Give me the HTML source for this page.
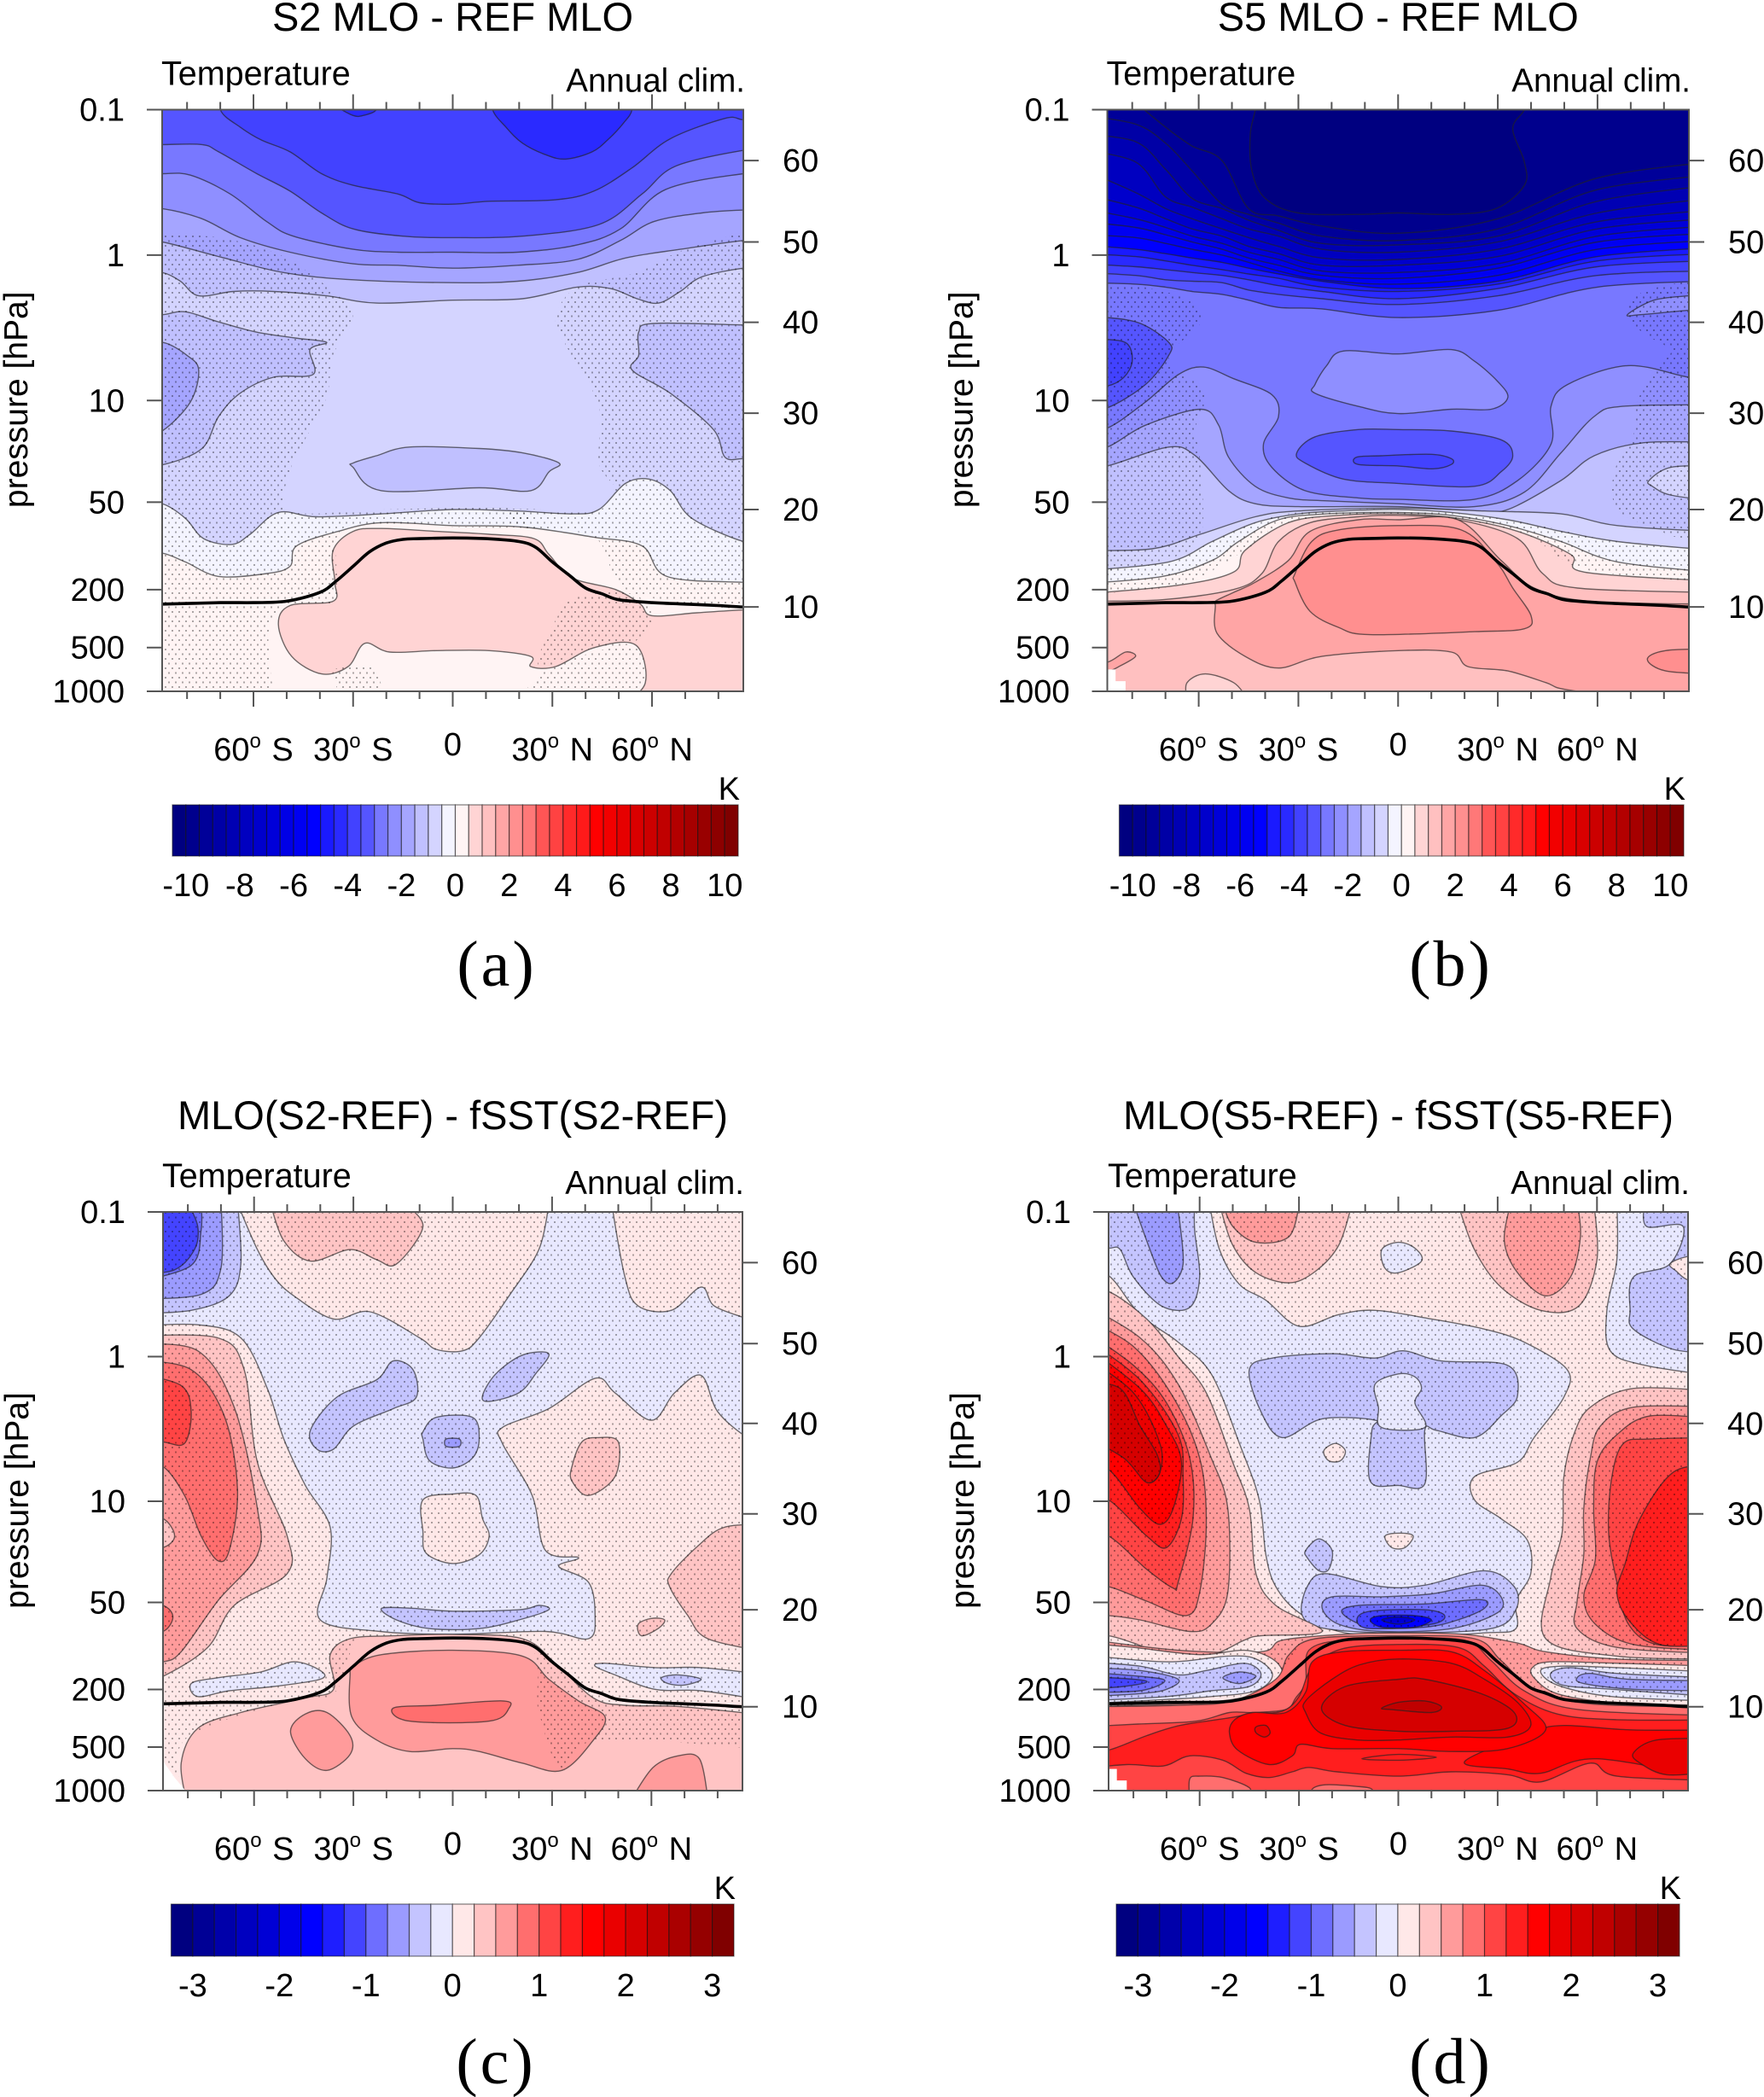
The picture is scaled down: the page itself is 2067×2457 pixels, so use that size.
<!DOCTYPE html>
<html lang="en">
<head>
<meta charset="utf-8">
<title>Zonal mean temperature differences</title>
<style>
html,body{margin:0;padding:0;background:#fff;}
svg{display:block;}
text{font-family:"Liberation Sans",sans-serif;fill:#000;}
</style>
</head>
<body>
<svg id="figure" xmlns="http://www.w3.org/2000/svg" width="2067" height="2457" viewBox="0 0 2067 2457">
<defs>
<pattern id="dots" patternUnits="userSpaceOnUse" width="8" height="11">
<rect x="1" y="1" width="2" height="2" fill="#000" fill-opacity="0.33"/>
<rect x="5" y="6.5" width="2" height="2" fill="#000" fill-opacity="0.33"/>
</pattern>
</defs>
</svg>
<script>
/* ---------- shared axes data ---------- */
const latMajorTicks=[-60,-30,0,30,60];
const latMinorTicks=[-80,-70,-50,-40,-20,-10,10,20,40,50,70,80];
const latTickLabels=["60","30","0","30","60"];
const latTickHemis=[" S"," S",""," N"," N"];
const pressureTicks=[0.1,1,10,50,200,500,1000];
const heightTicks=[10,20,30,40,50,60];
const heightTickLogp=[2.42,1.75,1.087,0.462,-0.09,-0.65];
const tropopauseLat=[-95,-87.5,-70,-60,-50,-40,-35,-30,-25,-20,-15,-10,0,10,20,25,30,35,40,45,50,60,70,80,87.5,95];
const tropopauseLogp=[2.4,2.4,2.39,2.39,2.38,2.32,2.24,2.14,2.04,1.98,1.955,1.95,1.945,1.95,1.97,2.01,2.11,2.2,2.29,2.33,2.37,2.39,2.4,2.41,2.42,2.42];
const barLabelsWide=[-10,-8,-6,-4,-2,0,2,4,6,8,10];
const barLabelsNarrow=[-3,-2,-1,0,1,2,3];
const wideRamp=[26,42,66,85,120,143,165,192,212,244];
const narrowRamp=[30,68,110,155,196,232];

/* ---------- panel (a) S2 MLO - REF MLO ---------- */
const aBase=-3.25;
const aBandLevels=[-2.75,-2.25,-1.75,-1.25,-0.75,-0.25,0.25];
const aBandCurves=[
[-95,-.76,-87.5,-.76,-75.5,-.76,-70.5,-.71,-59,-.56,-49,-.44,-39.5,-.29,-30,-.18,-15,-.13,0,-.12,21,-.13,44,-.21,57,-.42,67,-.61,87.5,-.72,95,-.72],
[-95,-.56,-87.5,-.56,-79,-.55,-67,-.42,-56,-.23,-48,-.13,-30,-.04,-16.5,-.02,0,-.02,19.5,-.02,37.5,-.07,50.5,-.18,64,-.45,87.5,-.56,95,-.56],
[-95,-.32,-87.5,-.32,-75.5,-.25,-64,-.12,-49,-.02,-30,.06,-16.5,.07,0,.09,19.5,.07,37.5,.03,50.5,-.1,60.5,-.23,75,-.29,87.5,-.31,95,-.31],
[-95,-.09,-87.5,-.09,-70.5,.01,-51,.12,-30,.17,0,.19,19.5,.18,37.5,.12,52,.02,68.5,-.04,87.5,-.1,95,-.1],
[-95,.12,-87.5,.12,-82,.18,-76.5,.28,-66,.25,-54,.25,-38,.28,-23,.33,0,.31,21,.3,37.5,.22,47.5,.23,55.5,.3,62,.33,68.5,.25,75,.15,87.5,.09,95,.09],
[-95,1.71,-87.5,1.71,-80.5,1.81,-75,1.95,-66.5,1.99,-61,1.92,-52.5,1.77,-41,1.8,-21.5,1.78,0,1.75,19.5,1.76,36,1.78,44,1.75,52,1.57,59,1.54,65.5,1.62,72,1.81,87.5,1.97,95,1.97],
[-95,2.05,-87.5,2.05,-80.5,2.11,-70.5,2.21,-56,2.19,-49,2.14,-47,2,-34.5,1.9,-21.5,1.84,0,1.86,21,1.87,42.5,1.94,57,2,64.5,2.21,87.5,2.25,95,2.25]
];
const aBlobLevels=[-3.75,-4.25,-4.25,-1.25,-1.75,-1.25,-1.25,0.75];
const aBlobOutlines=[
[-70,-1.2,-70,-1,-64,-.88,-57.5,-.79,-49,-.71,-39.5,-.56,-30,-.48,-16.5,-.42,-10,-.36,0,-.35,11,-.37,31,-.38,42.5,-.44,54,-.6,65.5,-.8,82,-.94,87.5,-.93,95,-.93,95,-1.2],
[12,-1.15,12,-1,16,-.88,21,-.77,28,-.69,34,-.66,42,-.71,47,-.8,51.5,-.91,54,-1,54,-1.15],
[-35,-1.1,-35,-1.02,-30,-.96,-27,-.96,-23,-1,-23,-1.1],
[-95,.41,-87.5,.41,-80.5,.39,-70.5,.46,-59,.53,-47.5,.57,-38,.6,-43,.65,-42,.82,-54,.84,-64,.95,-70.5,1.11,-75.5,1.33,-87,1.44,-95,1.44],
[-95,.64,-87.5,.6,-80,.69,-76.5,.79,-79,1.01,-87.5,1.21,-95,1.25],
[95,.48,87.5,.48,60.5,.47,56,.53,56,.69,54,.79,65.5,.95,78.5,1.2,82,1.39,87.5,1.4,95,1.4],
[-30,1.43,-23,1.38,-13,1.32,8,1.33,21,1.36,32,1.43,29,1.49,23.5,1.62,8,1.6,-21.5,1.62,-30,1.46],
[-36,2.03,-30,1.9,-21.5,1.88,-5,1.9,11,1.92,24.5,1.95,29,2.06,36,2.22,49,2.3,56.5,2.4,60,2.48,73.5,2.46,87.5,2.44,95,2.44,95,3.1,51,3.1,58,2.94,55,2.68,42.5,2.7,31,2.83,23.5,2.83,23.5,2.76,11,2.72,-5,2.72,-19,2.73,-26.5,2.67,-31.5,2.83,-39.5,2.88,-48.5,2.76,-52.5,2.54,-49,2.41,-36,2.38,-35.5,2.25]
];
const aStipple=[
[-95,-.15,-70.5,-.12,-51,.01,-34.5,.28,-30,.41,-36,.69,-38,.98,-44.5,1.27,-49,1.49,-49,1.76,-21.5,1.75,0,1.74,19.5,1.75,19.5,1.87,-21.5,1.86,-34.5,1.92,-35.5,2.38,-49,2.4,-55,2.54,-55,2.83,-53.5,3.05,-95,3.05],
[95,-.2,70,-.04,55.5,.12,37.5,.22,31,.44,35,.66,44,1.04,44,1.43,49,1.62,42.5,1.76,19.5,1.75,19.5,1.87,42.5,1.94,54,2.32,95,2.45],
[26,2.83,31,2.51,37.5,2.35,54,2.33,60,2.49,54,2.67,42.5,2.7],
[20,3.05,28,2.86,42.5,2.73,55,2.7,58,2.92,51,3.05],
[-36,2.86,-25,2.83,-20,3.05,-33,3.05]
];
const aMissing=[];

/* ---------- panel (b) S5 MLO - REF MLO ---------- */
const bBase=-9.75;
const bBandLats=[-95,-79,-70,-62,-53,-45,-36,-23,0,30,60,95];
const bBandLevels=[-9.25,-8.75,-8.25,-7.75,-7.25,-6.75,-6.25,-5.75,-5.25,-4.75,-4.25,-3.75,-3.25,-2.75];
const bBandLogp=[
[-1.3,-1.05,-.88,-.75,-.65,-.32,-.27,-.2,-.15,-.25,-.53,-.64],
[-.96,-.9,-.77,-.58,-.35,-.28,-.22,-.13,-.1,-.18,-.45,-.55],
[-.83,-.78,-.59,-.39,-.32,-.24,-.17,-.08,-.07,-.13,-.37,-.48],
[-.72,-.64,-.4,-.33,-.25,-.18,-.13,-.04,-.02,-.09,-.29,-.39],
[-.59,-.43,-.32,-.25,-.18,-.12,-.06,.02,.03,-.04,-.23,-.31],
[-.42,-.33,-.25,-.18,-.13,-.06,-.01,.07,.07,.01,-.18,-.25],
[-.32,-.25,-.19,-.13,-.08,-.02,.03,.11,.12,.06,-.13,-.2],
[-.23,-.19,-.14,-.09,-.04,.02,.07,.14,.16,.09,-.09,-.15],
[-.14,-.12,-.08,-.04,0,.05,.11,.17,.2,.14,-.04,-.1],
[-.07,-.04,-.01,.02,.05,.09,.13,.18,.23,.18,.01,-.05],
[-.01,.01,.04,.07,.1,.13,.16,.22,.25,.2,.04,-.01],
[.06,.08,.1,.12,.14,.17,.21,.25,.3,.23,.08,.04],
[.12,.14,.17,.18,.19,.24,.27,.3,.34,.28,.14,.11],
[.19,.2,.22,.25,.27,.31,.36,.37,.43,.38,.22,.18]
];
const bLowerBandLevels=[-2.25,-1.75,-1.25,-0.75,-0.25,0.25,0.75,1.25];
const bLowerBandCurves=[
[-95,1.19,-87.5,1.19,-76,1.01,-66,.82,-58.5,.77,-49.5,.85,-38,.96,-36,1.11,-40.5,1.3,-38,1.46,-28,1.62,-12,1.67,0,1.68,23,1.68,36,1.55,46,1.3,46,1.04,51,.89,69,.76,87.5,.84,95,.84],
[-95,1.32,-87.5,1.32,-76,1.17,-59.5,1.06,-54,1.17,-51,1.39,-43,1.59,-33,1.67,-21.5,1.69,0,1.71,23,1.73,38,1.63,49,1.36,59,1.11,67.5,1.04,95,1.03],
[-95,1.45,-87.5,1.45,-69,1.32,-61,1.38,-51,1.62,-43,1.71,-30,1.73,0,1.73,23,1.76,33,1.75,49,1.55,59,1.38,74,1.29,95,1.29],
[-95,2.03,-74,2.02,-59.5,1.92,-43,1.8,-30,1.76,0,1.74,26,1.76,49,1.78,66,1.86,95,1.9],
[-95,2.17,-69,2.11,-56,1.97,-43,1.84,-30,1.78,-17,1.76,0,1.75,16,1.77,33,1.82,49,1.9,66,1.97,95,2.03],
[-95,2.26,-71,2.21,-56,2.1,-48,1.97,-36,1.82,-21.5,1.78,0,1.77,16,1.79,33,1.86,49,1.97,66,2.11,95,2.18],
[-95,2.33,-66,2.27,-49.5,2.18,-46,2.03,-33,1.84,-18,1.79,0,1.78,18,1.81,36,1.9,52,2.06,56,2.18,95,2.24],
[-95,2.38,-71,2.37,-49.5,2.3,-41,2.19,-36,1.97,-26.5,1.84,-12,1.8,0,1.79,18,1.82,36,1.95,43.5,2.19,54,2.29,95,2.32]
];
const bBlobLevels=[-10.25,-3.25,-3.75,-2.25,-3.25,-3.75,-2.25,-0.75,1.75,1.75,2.25,2.25,0.75];
const bBlobOutlines=[
[-43,-1.1,-43,-1,-44.5,-.83,-44,-.58,-40,-.39,-30,-.29,-11.5,-.28,0,-.29,16,-.28,29.5,-.32,38,-.48,38,-.64,34.5,-.87,38,-1,38,-1.1],
[-95,.43,-87.5,.43,-77.5,.47,-69,.6,-69,.69,-76,.89,-87.5,1.05,-95,1.05],
[-95,.58,-87.5,.58,-81.5,.61,-80,.73,-82.5,.84,-87.5,.9,-95,.9],
[-25,.89,-21.5,.76,-16.5,.66,0,.68,16,.65,23,.73,30,.87,33,.98,28,1.06,16,1.06,0,1.09,-12,1.04,-25,.95],
[-30.5,1.36,-25,1.25,-12,1.2,0,1.2,16,1.21,31,1.27,34.5,1.38,31,1.49,23,1.59,0,1.57,-16.5,1.54,-28,1.43],
[-12.5,1.39,-5,1.38,10,1.37,16,1.4,16,1.44,10.5,1.47,0,1.45,-12,1.44],
[69,.41,77,.31,87.5,.28,95,.27,95,.38,87.5,.38,73,.41],
[75.5,1.55,82,1.46,95,1.45,95,1.69,82,1.65,76.5,1.59],
[-55,2.38,-49.5,2.32,-43,2.25,-33,2.1,-26.5,1.9,-12,1.82,0,1.82,18,1.82,31,2.1,41,2.29,57.5,2.38,95,2.4,95,3.1,75.5,3.05,51,2.99,44.5,2.94,33,2.86,21,2.83,16,2.73,0,2.72,-23,2.76,-36,2.84,-46,2.76,-54.5,2.6,-55,2.41],
[-95,2.8,-87.5,2.8,-82,2.73,-79,2.76,-84,2.83,-87.5,2.86,-95,2.86],
[-31,2.19,-26,1.97,-18,1.89,0,1.86,19,1.89,29.5,2.11,34.5,2.29,40,2.48,38,2.57,23,2.59,-8.5,2.61,-18,2.56,-26.5,2.45,-31,2.25],
[75,2.78,80.5,2.72,95,2.71,95,2.88,80.5,2.86],
[-63.5,3.05,-63.5,2.94,-58,2.88,-49.5,2.94,-45.5,3.05]
];
const bStipple=[
[-95,.19,-74,.23,-61,.34,-59.5,.47,-68,.66,-68,.79,-59.5,.89,-58.5,1.04,-61,1.2,-59.5,1.43,-59.5,1.94,-71,2.1,-95,2.2],
[95,.15,74,.25,69,.41,74,.54,82,.66,77,.79,72,1.01,70.5,1.27,65,1.49,66,1.75,79,1.9,95,2.03],
[-95,2.17,-69,2.11,-56,1.97,-43,1.84,-30,1.77,0,1.75,33,1.82,66,1.97,95,2.03,95,2.25,56,2.16,36,1.9,0,1.78,-33,1.84,-46,2.03,-66,2.27,-95,2.33]
];
const bMissing=[[-88,2.85,-85,2.85,-85,2.93,-82,2.93,-82,3.02,-88,3.02]];

/* ---------- panel (c) MLO(S2-REF) - fSST(S2-REF) ---------- */
const cBase=0.125;
const cBandLevels=[];
const cBandCurves=[];
const cBlobLevels=[-0.125,-0.375,-0.625,-0.875,-1.125,0.375,0.375,0.625,0.875,1.125,0.375,0.875,-0.375,-0.375,-0.375,-0.625,-0.375,0.125,0.375,0.375,0.375,-0.125,-0.125,-0.375,0.375,0.625,0.625,0.625,0.875];
const cBlobOutlines=[
[-95,-1.1,-65,-1.06,-59,-.74,-54,-.55,-48,-.42,-36,-.26,-25,-.31,-10,-.13,-5,-.05,3,-.04,8,-.13,17,-.42,26,-.74,29,-1.06,48,-1.06,52,-.55,56,-.35,66,-.32,75,-.48,79,-.35,89,-.26,95,-.2,95,.6,89,.56,80,.38,75,.13,67,.25,60,.44,49,.25,43,.15,29,.36,15,.49,15,.6,24,.96,28,1.34,38,1.39,32,1.45,41,1.56,43,1.79,41,1.95,28,1.9,0,1.92,-22,1.9,-40,1.82,-38,1.53,-37,1.18,-44.5,.89,-51,.57,-56,.22,-64,-.13,-77,-.22,-95,-.21],
[-95,-.3,-79,-.32,-67.5,-.42,-64,-.64,-65,-1.06,-95,-1.06],
[-95,-.4,-76,-.43,-70,-.61,-70,-1.06,-95,-1.06],
[-95,-.52,-79,-.63,-76,-.87,-76,-1.06,-95,-1.06],
[-95,-.57,-84,-.6,-78,-.74,-77,-.9,-80,-1.06,-95,-1.06],
[-55,-1.06,-51,-.8,-43,-.66,-31,-.74,-23,-.67,-17,-.64,-9,-.9,-15,-1.06],
[-95,-.14,-71,-.13,-63,.09,-59,.73,-50,1.24,-50,1.5,-66,1.72,-74,2.01,-87.5,2.21,-95,2.25],
[-95,-.08,-77,-.04,-66,.35,-59,1.05,-59,1.37,-71,1.69,-82,2.04,-87.5,2.11,-95,2.12],
[-95,.03,-79,.09,-69,.41,-65,.92,-67.5,1.34,-71,1.41,-76,1.24,-81,.96,-87.5,.76,-95,.74],
[-95,.12,-82,.2,-79,.38,-81,.6,-87.5,.59,-95,.58],
[-95,1.12,-87.5,1.12,-84,1.24,-87.5,1.32,-95,1.32],
[-95,1.72,-87.5,1.72,-84.5,1.8,-87.5,1.9,-95,1.9],
[-43,.51,-35,.28,-23,.16,-18,.03,-12,.09,-11,.28,-18,.36,-30,.48,-36,.64,-41,.64],
[9,.27,13,.12,21,-.01,29,-.02,25,.12,20,.25,11,.31],
[-9,.52,-5,.42,6,.42,8,.57,6,.7,0,.77,-7,.72,-9,.57],
[-2,.57,2,.57,2,.62,-2,.62],
[-21.5,1.74,-12,1.74,0,1.76,20,1.75,26,1.72,29,1.75,20,1.82,8,1.88,-7,1.88,-17,1.82],
[-9,.99,0,.95,7,.96,9,1.12,11,1.24,8,1.37,0,1.43,-8,1.36,-9,1.21],
[36,.76,39,.59,44,.56,50,.59,49,.83,41,.96,36,.86],
[95,1.16,82,1.18,74,1.31,66,1.5,65.5,1.59,71,1.79,77,1.95,95,2.04],
[56,1.85,60,1.81,64,1.82,62,1.88,57,1.93],
[-79,2.26,-71,2.22,-58,2.18,-48,2.11,-40,2.17,-40,2.23,-54,2.28,-67.5,2.31,-77,2.35],
[43,2.14,46,2.12,61,2.15,75,2.15,95,2.2,95,2.38,75,2.31,61,2.3,49,2.2],
[63,2.22,68,2.2,75,2.23,70,2.27,65,2.26],
[-80,3.1,-82,2.81,-77,2.57,-64,2.46,-44.5,2.36,-36,2.3,-37,2.06,-31,1.95,-18,1.93,0,1.92,21,1.95,31,2.12,42.5,2.36,52,2.41,69,2.42,95,2.48,95,3.1],
[-31,2.2,-30,2.14,-21.5,2.06,0,2.03,21,2.07,29,2.23,38,2.38,46,2.49,42.5,2.65,33,2.86,21,2.81,8,2.73,0,2.71,-13,2.73,-23,2.65,-30.5,2.49],
[-49,2.59,-44.5,2.47,-38,2.46,-31,2.62,-31,2.75,-38,2.86,-44.5,2.78],
[54,3.06,60.5,2.84,68,2.76,74.5,2.78,77,3.06],
[-18,2.43,-5,2.41,15,2.38,17,2.43,11,2.52,-13,2.52]
];
const cStipple=[
[-95,-1.06,95,-1.06,95,2.72,44,2.65,33,2.86,26,2.46,21,1.96,-21.5,1.93,-30,2.01,-36,2.33,-51,2.39,-81,2.65,-81,3.06,-95,3.06]
];
const cMissing=[[-88,2.78,-84,2.91,-80,3.02,-88,3.02]];

/* ---------- panel (d) MLO(S5-REF) - fSST(S5-REF) ---------- */
const dBase=0.125;
const dBandLevels=[];
const dBandCurves=[];
const dBlobLevels=[-0.125,-0.375,-0.625,0.375,0.625,0.375,0.625,-0.125,-0.125,-0.375,0.125,-0.375,-0.125,0.125,0.125,-0.375,-0.375,-0.625,-0.875,-1.125,-1.625,-2.125,
0.375,0.625,0.875,1.125,1.375,1.625,1.875,2.125,
0.375,0.625,0.875,1.125,1.375,
0.625,
0.125,-0.125,-0.375,-0.625,-0.625,-0.875,-1.125,
0.125,-0.125,-0.375,-0.625,
0.875,1.125,1.375,1.125,0.875,0.875,1.625,1.625,1.875,2.125,2.375,1.875,1.875,1.375];
const dBlobOutlines=[
[-57,-1.06,-54,-.74,-48,-.5,-40,-.39,-30,-.21,-18,-.29,-7,-.32,10,-.26,26,-.19,38,-.1,51,.09,50,.28,41,.56,36,.73,23,.83,23,.99,31,1.12,39,1.27,40,1.5,35.5,1.69,35.5,1.88,26,1.91,0,1.94,-18,1.9,-30,1.77,-37,1.59,-40,1.37,-42,.99,-48,.6,-56.5,.12,-66.5,-.1,-78,-.29,-87.5,-.56,-95,-.56,-95,-1.06],
[-95,-.75,-87.5,-.75,-84,-.74,-80,-.55,-71.5,-.35,-63,-.34,-60,-.55,-61.5,-.87,-61.5,-1.06,-95,-1.06],
[-80,-1.06,-75,-.74,-71.5,-.55,-68,-.51,-65,-.64,-66,-.93,-67,-1.06],
[-54,-1.06,-50,-.77,-43,-.58,-33,-.51,-25,-.59,-18,-.77,-14,-1.06],
[-53,-1.06,-50,-.9,-43,-.79,-33,-.83,-30,-1.06],
[18,-1.06,23,-.74,31,-.48,43,-.32,54.5,-.35,60,-.67,59,-1.06],
[34,-1.06,32,-.8,36,-.58,44.5,-.42,52,-.55,55,-.83,54,-1.06],
[-5,-.74,0,-.79,5,-.75,7,-.66,0,-.58,-4,-.61],
[66,-1.06,66,-.67,63,-.32,64,-.04,74.5,.06,95,.13,95,-1.06],
[74.5,-1.06,75,-.9,86,-.9,82,-.64,71,-.55,70,-.32,71,-.19,83,-.05,95,-.03,95,-1.06],
[82,-.64,87,-.69,95,-.7,95,-.5,87.5,-.53,84,-.59],
[-45,.09,-38,.01,-20,-.02,-7,.01,1.5,-.04,13,.03,33,.06,36,.27,31,.41,23,.56,11.5,.51,8,.51,8,.88,0,.89,-8.5,.86,-8,.51,-7,.44,-23,.43,-35,.56,-41.5,.38],
[-7,.19,0,.12,5,.14,7,.22,5,.32,8,.49,-5,.49,-6,.35],
[-22.5,.65,-19,.6,-16,.65,-17.5,.72,-21,.72],
[-4,1.24,.5,1.22,4.5,1.24,2,1.32,-2,1.32],
[-28,1.34,-24,1.26,-20,1.34,-21,1.47,-24,1.48,-27.5,1.39],
[-29,1.79,-27.5,1.59,-22,1.5,-5,1.59,8,1.58,26,1.48,35,1.59,35.5,1.75,28,1.88,0,1.91,-22,1.88],
[-23,1.74,-20,1.66,-5,1.66,10,1.64,25,1.58,31,1.66,30,1.77,16,1.88,-5,1.9,-18,1.85],
[-17,1.77,-12,1.72,8,1.71,25,1.68,26,1.74,18,1.82,8,1.87,-8.5,1.87],
[-12.5,1.82,-8.5,1.76,8,1.75,14,1.79,10,1.85,-8.5,1.88],
[-8.5,1.82,-5,1.79,5,1.79,10,1.82,5,1.87,-5,1.87],
[-5,1.82,0,1.8,5,1.82,0,1.85],
[-95,-.45,-87.5,-.45,-76,-.26,-66.5,0,-58,.25,-50,.73,-45,1.05,-43,1.5,-37,1.72,-23,1.9,-41.5,1.93,-46.5,1.96,-56.5,2.06,-70,2.06,-80,1.98,-87.5,1.93,-95,1.93],
[-95,-.36,-78,-.13,-66.5,.19,-56.5,.7,-51.5,1.05,-51.5,1.63,-56.5,1.85,-63,1.9,-78,1.82,-87.5,1.79,-95,1.79],
[-95,-.26,-80,-.07,-68,.28,-60,.7,-58,1.15,-60,1.63,-64,1.79,-76,1.69,-87.5,1.59,-95,1.59],
[-95,-.18,-80,.06,-70,.32,-63,.7,-62,1.12,-66.5,1.56,-68,1.6,-76,1.47,-87.5,1.24,-95,1.24],
[-95,-.13,-78,.16,-66.5,.54,-65,.83,-65.5,1.12,-70,1.32,-76,1.24,-87.5,.99,-95,.98],
[-95,-.08,-78,.22,-70,.48,-65.5,.73,-68,1.05,-72,1.16,-78,1.05,-87.5,.78,-95,.76],
[-95,0,-80,.25,-72,.6,-72,.8,-75.5,.87,-80,.76,-87.5,.6,-95,.58],
[-95,.18,-84,.22,-78,.48,-73,.67,-72,.8,-76,.87,-83,.7,-95,.55],
[95,.24,71,.22,58,.35,53,.54,50,.83,49.5,1.21,46,1.53,44.5,1.95,66,2.07,95,2.09],
[95,.35,71,.35,61,.48,58,.7,56,1.05,56,1.37,54,1.69,54,1.88,66,2.01,95,2.05],
[95,.43,76,.41,66,.54,60,.73,59,1.05,59.5,1.4,56,1.66,59.5,1.85,71,1.99,95,2.03],
[95,.56,76,.57,68,.6,64.5,.83,63.5,1.21,66,1.56,69.5,1.85,78,1.99,95,1.99],
[95,.75,83,.8,73,1.12,68.5,1.43,66,1.63,69.5,1.82,79,1.99,95,1.99],
[-95,1.95,-66.5,2.03,-41.5,2.04,-35,1.96,-17,1.92,0,1.91,20,1.92,36,1.98,44.5,2.04,66,2.09,95,2.1,95,3.1,-95,3.1],
[-95,1.98,-80,2.01,-60,2.06,-46.5,2.03,-38,2.09,-35,2.2,-40,2.31,-50,2.37,-66.5,2.4,-95,2.42],
[-95,2.06,-70,2.11,-51.5,2.07,-43,2.09,-38,2.2,-43,2.31,-56.5,2.35,-70,2.37,-95,2.4],
[-95,2.11,-78,2.14,-66.5,2.2,-58,2.17,-46.5,2.12,-41.5,2.19,-45,2.28,-56.5,2.31,-70,2.35,-95,2.38],
[-95,2.15,-78,2.17,-66.5,2.23,-70,2.3,-78,2.33,-95,2.35],
[-53,2.22,-48,2.18,-43,2.21,-48,2.26],
[-95,2.18,-78,2.21,-70.5,2.24,-78,2.31,-95,2.32],
[-95,2.21,-80,2.23,-76,2.25,-83,2.28,-95,2.3],
[40.5,2.15,46,2.11,66,2.12,95,2.14,95,2.41,64.5,2.39,48,2.33,41,2.22],
[43,2.17,49.5,2.14,66,2.15,95,2.18,95,2.38,64.5,2.35,48,2.27],
[46,2.19,52,2.15,66,2.19,95,2.22,95,2.35,64.5,2.3,49.5,2.27],
[54,2.22,58,2.19,69.5,2.23,95,2.24,95,2.31,71,2.3,56,2.26],
[-95,2.42,-66.5,2.41,-50,2.38,-37,2.23,-33,2.06,-25,1.95,0,1.93,23,1.95,31,2.1,41,2.3,58,2.4,95,2.42,95,3.1,-95,3.1],
[-95,2.56,-78.6,2.54,-61,2.52,-51,2.46,-44,2.46,-34,2.44,-31,2.36,-28,2.25,-27,2.03,-17,1.96,0,1.95,20,1.96,28,2.1,38,2.31,54.5,2.44,95,2.48,95,3.1,-95,3.1],
[-95,2.76,-86,2.71,-76,2.62,-66,2.55,-52,2.5,-44,2.47,-35,2.45,-30,2.35,-26,2.15,-17,2.02,0,1.99,18,2.01,26,2.14,35,2.33,48,2.47,66,2.51,95,2.51,95,3.1,-95,3.1],
[-95,2.85,-82,2.82,-71,2.83,-63,2.76,-53,2.79,-46,2.88,-39,2.91,-32,2.87,-27,2.84,-18.5,2.87,0,2.9,16,2.87,33,2.89,43,2.94,58,2.81,66,2.9,95,2.93,95,3.1,-95,3.1],
[-63,3.06,-63,2.92,-60,2.9,-53,2.91,-45,2.98,-45,3.06],
[-26,3.06,-26,2.99,-22,2.96,-13,2.97,-8,2.99,-8,3.06],
[40,2.6,50,2.55,70,2.58,95,2.58,95,2.92,60,2.78,43,2.88,33,2.85,20,2.8],
[-51,2.6,-49.4,2.51,-44,2.46,-34,2.46,-28,2.32,-26,2.11,-17,2.04,0,2.03,16,2.04,26,2.17,38,2.4,44.5,2.58,33,2.71,16,2.73,0,2.71,-20,2.71,-29.6,2.68,-32,2.76,-39,2.82,-48.5,2.72],
[-28,2.38,-20,2.23,-11.6,2.13,0,2.09,16,2.12,26,2.23,36,2.39,40,2.55,33,2.63,16,2.63,0,2.65,-12.5,2.65,-23.6,2.6,-28,2.46],
[-23.2,2.43,-16,2.28,.4,2.23,8,2.23,25,2.33,35,2.46,33,2.57,16,2.59,.4,2.59,-16,2.55],
[-5,2.43,0,2.39,8,2.38,13,2.42,10,2.46,-2,2.44],
[71,2.74,78,2.65,95,2.64,95,2.87,81,2.89,73,2.81],
[-43,2.56,-40,2.55,-38.7,2.6,-40.4,2.63,-43,2.6],
[-11,2.78,0,2.75,11.5,2.77,0,2.79]
];
const dStipple=[
[-95,-1.06,95,-1.06,95,2.42,49.5,2.36,33,2.17,23,1.91,-23,1.91,-35,2.17,-50,2.36,-95,2.42]
];
const dMissing=[[-88,2.85,-85,2.85,-85,2.93,-82,2.93,-82,3.02,-88,3.02]];

/* ---------- rendering ---------- */
const svg=document.getElementById('figure');
const NS='http://www.w3.org/2000/svg';
function make(tag,attrs,parent){
  const el=document.createElementNS(NS,tag);
  for(const k in attrs){el.setAttribute(k,attrs[k]);}
  (parent||svg).appendChild(el);
  return el;
}
function binColor(i,scale){
  const mirror=i>=scale.side;
  const k=mirror?2*scale.side-1-i:i;
  let a,b;
  if(k<=scale.pure){a=0;b=Math.round(128+127*k/scale.pure);}
  else{a=scale.ramp[k-scale.pure-1];b=255;}
  return mirror?'rgb('+b+','+a+','+a+')':'rgb('+a+','+a+','+b+')';
}
function levelColor(v,scale){
  const i=Math.max(0,Math.min(2*scale.side-1,Math.floor((v+scale.max)/scale.step)+1));
  return binColor(i,scale);
}
function toPairs(flat,xOf,yOf){
  const out=[];
  for(let i=0;i+1<flat.length;i+=2){out.push([xOf(flat[i]),yOf(flat[i+1]),Math.abs(flat[i])>=90||flat[i+1]<=-1.02||flat[i+1]>=3.02]);}
  return out;
}
function smooth(p,closed){
  const n=p.length;
  const at=i=>closed?p[(i+n)%n]:p[Math.max(0,Math.min(n-1,i))];
  let d='M'+p[0][0].toFixed(1)+' '+p[0][1].toFixed(1);
  const last=closed?n:n-1;
  for(let i=0;i<last;i++){
    const p0=at(i-1),p1=at(i),p2=at(i+1),p3=at(i+2);
    const k1=p1[2]?0:1/6,k2=p2[2]?0:1/6;
    d+='C'+(p1[0]+(p2[0]-p0[0])*k1).toFixed(1)+' '+(p1[1]+(p2[1]-p0[1])*k1).toFixed(1)+' '
      +(p2[0]-(p3[0]-p1[0])*k2).toFixed(1)+' '+(p2[1]-(p3[1]-p1[1])*k2).toFixed(1)+' '
      +p2[0].toFixed(1)+' '+p2[1].toFixed(1);
  }
  return closed?d+'Z':d;
}
const wideScale={max:10,step:0.5,side:21,pure:10,ramp:wideRamp};
const narrowScale={max:3,step:0.25,side:13,pure:6,ramp:narrowRamp};
const panels=[
 {id:'a',x0:190,x1:871,y0:128.5,y1:810,title:'S2 MLO - REF MLO',titleY:36,scale:wideScale,base:aBase,bandLevels:aBandLevels,bandCurves:aBandCurves,blobLevels:aBlobLevels,blobs:aBlobOutlines,stipple:aStipple,missing:aMissing,bar:{x0:202,x1:865,y0:943,y1:1003},labels:barLabelsWide,caption:'(a)',capX:582,capY:1155},
 {id:'b',x0:1297.5,x1:1979,y0:128.5,y1:810,title:'S5 MLO - REF MLO',titleY:36,scale:wideScale,base:bBase,
  bandLevels:bBandLevels.concat(bLowerBandLevels),
  bandCurves:bBandLogp.map(function(row){const c=[];row.forEach(function(v,j){c.push(bBandLats[j],v);});return c;}).concat(bLowerBandCurves),
  blobLevels:bBlobLevels,blobs:bBlobOutlines,stipple:bStipple,missing:bMissing,bar:{x0:1311.5,x1:1973,y0:943,y1:1003},labels:barLabelsWide,caption:'(b)',capX:1700,capY:1155},
 {id:'c',x0:191,x1:870,y0:1420,y1:2098,title:'MLO(S2-REF) - fSST(S2-REF)',titleY:1323,scale:narrowScale,base:cBase,bandLevels:cBandLevels,bandCurves:cBandCurves,blobLevels:cBlobLevels,blobs:cBlobOutlines,stipple:cStipple,missing:cMissing,bar:{x0:200.5,x1:860,y0:2231,y1:2292},labels:barLabelsNarrow,caption:'(c)',capX:581,capY:2441},
 {id:'d',x0:1299,x1:1978,y0:1420,y1:2098,title:'MLO(S5-REF) - fSST(S5-REF)',titleY:1323,scale:narrowScale,base:dBase,bandLevels:dBandLevels,bandCurves:dBandCurves,blobLevels:dBlobLevels,blobs:dBlobOutlines,stipple:dStipple,missing:dMissing,bar:{x0:1308,x1:1968,y0:2231,y1:2292},labels:barLabelsNarrow,caption:'(d)',capX:1700,capY:2441}
];
const CONTOUR='#222';
panels.forEach(function(P){
  const xOf=lat=>P.x0+(lat+87.5)/175*(P.x1-P.x0);
  const yOf=lp=>P.y0+(lp+1)/4*(P.y1-P.y0);
  const g=make('g',{});
  
  
  const defs=svg.querySelector('defs');
  const clip=make('clipPath',{id:'clip-'+P.id},defs);
  make('rect',{x:P.x0,y:P.y0,width:P.x1-P.x0,height:P.y1-P.y0},clip);
  const field=make('g',{'clip-path':'url(#clip-'+P.id+')'},g);
  
  
  const base=make('rect',{x:P.x0,y:P.y0,width:P.x1-P.x0,height:P.y1-P.y0,fill:levelColor(P.base,P.scale)},field);
  
  
  P.bandCurves.forEach(function(curve,idx){
    const pts=toPairs(curve,xOf,yOf);
    const d=smooth(pts,false)+'L'+xOf(100)+' '+yOf(3.4)+'L'+xOf(-100)+' '+yOf(3.4)+'Z';
    const el=make('path',{d:d,fill:levelColor(P.bandLevels[idx],P.scale),stroke:CONTOUR,'stroke-opacity':0.65,'stroke-width':1.4},field);
    
    
  });
  P.blobs.forEach(function(outline,idx){
    const pts=toPairs(outline,xOf,yOf);
    const el=make('path',{d:smooth(pts,true),fill:levelColor(P.blobLevels[idx],P.scale),stroke:CONTOUR,'stroke-opacity':0.65,'stroke-width':1.4},field);
    
    
  });
  P.stipple.forEach(function(outline){
    const pts=toPairs(outline,xOf,yOf);
    const el=make('path',{d:smooth(pts,true),fill:'url(#dots)'},field);
    
    
  });
  P.missing.forEach(function(outline){
    const pts=toPairs(outline,xOf,yOf);
    const el=make('polygon',{points:pts.map(q=>q[0].toFixed(1)+','+q[1].toFixed(1)).join(' '),fill:'#fff'},field);
    
    
  });
  const tp=[];
  tropopauseLat.forEach(function(lat,j){tp.push(lat,tropopauseLogp[j]);});
  const line=make('path',{d:smooth(toPairs(tp,xOf,yOf),false),fill:'none',stroke:'#000','stroke-width':3.6},field);
  
  

  const frame=make('rect',{x:P.x0,y:P.y0,width:P.x1-P.x0,height:P.y1-P.y0,fill:'none',stroke:'#555','stroke-width':2},g);
  
  

  const tick=function(x1,y1,x2,y2,name){
    const t=make('line',{x1:x1,y1:y1,x2:x2,y2:y2,stroke:'#555','stroke-width':2},g);
    
    
  };
  latMajorTicks.forEach(function(lat){
    tick(xOf(lat),P.y0,xOf(lat),P.y0-18,'top-major-tick');
    tick(xOf(lat),P.y1,xOf(lat),P.y1+18,'bottom-major-tick');
  });
  latMinorTicks.forEach(function(lat){
    tick(xOf(lat),P.y0,xOf(lat),P.y0-9,'top-minor-tick');
    tick(xOf(lat),P.y1,xOf(lat),P.y1+9,'bottom-minor-tick');
  });
  pressureTicks.forEach(function(p){
    const y=yOf(Math.log10(p));
    tick(P.x0,y,P.x0-18,y,'pressure-tick');
    const tx=make('text',{x:P.x0-44,y:y+13,'text-anchor':'end','font-size':38},g);
    
    
    tx.textContent=String(p);
  });
  heightTicks.forEach(function(h,j){
    const y=yOf(heightTickLogp[j]);
    tick(P.x1,y,P.x1+18,y,'height-tick');
    const tx=make('text',{x:P.x1+46,y:y+13,'font-size':38},g);
    
    
    tx.textContent=String(h);
  });
  latMajorTicks.forEach(function(lat,j){
    const isZero=lat===0;
    const tx=make('text',{x:xOf(lat),y:P.y1+(isZero?75:81),'text-anchor':'middle','font-size':38},g);
    
    
    tx.appendChild(document.createTextNode(latTickLabels[j]));
    if(!isZero){
      const sup=make('tspan',{'font-size':24,dy:-15},tx);
      sup.textContent='o';
      const hemi=make('tspan',{'font-size':38,dy:15,dx:2},tx);
      hemi.textContent=latTickHemis[j];
    }
  });
  const title=make('text',{x:(P.x0+P.x1)/2,y:P.titleY,'text-anchor':'middle','font-size':47},g);
  
  
  title.textContent=P.title;
  const left=make('text',{x:P.x0-1,y:P.y0-29,'font-size':39.5},g);
  
  
  left.textContent='Temperature';
  const right=make('text',{x:P.x1+2,y:P.y0-21,'text-anchor':'end','font-size':38.5},g);
  
  
  right.textContent='Annual clim.';
  const ycx=P.x0-158,ycy=(P.y0+P.y1)/2-1;
  const yt=make('text',{x:ycx,y:ycy,'text-anchor':'middle','font-size':39,transform:'rotate(-90 '+ycx+' '+ycy+')'},g);
  
  
  yt.textContent='pressure [hPa]';

  /* colour bar */
  const B=P.bar;
  const nBins=2*P.scale.side;
  const bw=(B.x1-B.x0)/nBins;
  const barG=make('g',{},g);
  
  
  for(let i=0;i<nBins;i++){
    const r=make('rect',{x:B.x0+i*bw,y:B.y0,width:bw,height:B.y1-B.y0,fill:binColor(i,P.scale),stroke:'#111','stroke-opacity':0.55,'stroke-width':1.2},barG);
    
    
  }
  P.labels.forEach(function(v){
    const pos=B.x0+((v+P.scale.max)/P.scale.step+1)*bw;
    const tx=make('text',{x:pos,y:B.y1+47,'text-anchor':'middle','font-size':38},barG);
    
    
    tx.textContent=String(v);
  });
  const k=make('text',{x:B.x1+2,y:B.y0-6,'text-anchor':'end','font-size':38},barG);
  
  
  k.textContent='K';
  const cap=make('text',{x:P.capX,y:P.capY,'text-anchor':'middle','font-size':76,style:'font-family:"Liberation Serif",serif;letter-spacing:3px'},g);
  
  
  cap.textContent=P.caption;
});
</script>
</body>
</html>
